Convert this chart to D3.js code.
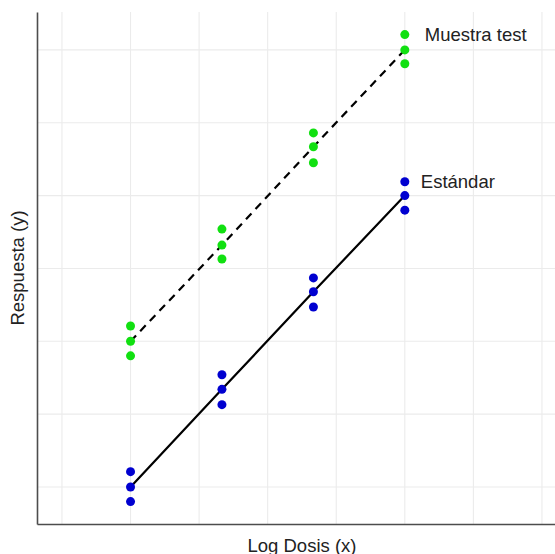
<!DOCTYPE html>
<html>
<head>
<meta charset="utf-8">
<script src="https://cdn.jsdelivr.net/npm/d3@7"></script>
<style>
  html, body { margin: 0; padding: 0; background: #fff; }
  svg { display: block; }
</style>
</head>
<body>
<svg id="chart" width="555" height="554"></svg>
<script>
// Log dose levels (x) and the three replicate responses at each level
const logDosis = [1, 2.333, 3.667, 5];
const estandarReplicas = [
  [1.21, 1.00, 0.80],
  [2.54, 2.34, 2.13],
  [3.87, 3.68, 3.47],
  [5.19, 5.00, 4.80]
];
const muestraReplicas = [
  [3.21, 3.00, 2.80],
  [4.54, 4.32, 4.13],
  [5.86, 5.67, 5.45],
  [7.21, 7.00, 6.81]
];
// Fitted mean response per dose level
const estandarMedias = [1.00, 2.34, 3.68, 5.00];
const muestraMedias = [3.00, 4.32, 5.67, 7.00];

const seriesNames = ["Estándar", "Muestra test"];
const xTicks = [0, 1, 2, 3, 4, 5, 6, 7];
const yTicks = [1, 2, 3, 4, 5, 6, 7];
const xDomain = [-0.364, 7.19];
const yDomain = [0.492, 7.52];

const svg = d3.select("#chart");
const W = 555, H = 554;
const margin = { left: 37, right: 0, top: 12, bottom: 30 };

const x = d3.scaleLinear().domain(xDomain).range([margin.left, W - margin.right]);
const y = d3.scaleLinear().domain(yDomain).range([H - margin.bottom, margin.top]);

const fontFamily = "Liberation Sans, Arial, sans-serif";

// Grid
const grid = svg.append("g");
grid.selectAll("line.vx").data(xTicks).join("line")
  .attr("x1", d => x(d)).attr("x2", d => x(d))
  .attr("y1", y.range()[1]).attr("y2", y.range()[0])
  .attr("stroke", "#ebebeb").attr("stroke-width", 1.1);
grid.selectAll("line.hy").data(yTicks).join("line")
  .attr("y1", d => y(d)).attr("y2", d => y(d))
  .attr("x1", x.range()[0]).attr("x2", x.range()[1])
  .attr("stroke", "#ebebeb").attr("stroke-width", 1.1);

// Axes (lines only, no tick labels)
const xAxis = svg.append("g")
  .attr("transform", `translate(0,${y.range()[0]})`)
  .call(d3.axisBottom(x).tickValues([]).tickSize(0).tickSizeOuter(0));
const yAxis = svg.append("g")
  .attr("transform", `translate(${x.range()[0]},0)`)
  .call(d3.axisLeft(y).tickValues([]).tickSize(0).tickSizeOuter(0));
[xAxis, yAxis].forEach(a => a.select(".domain")
  .attr("stroke", "#4d4d4d").attr("stroke-width", 1.6));

// Mean-response lines
const line = d3.line().x(d => x(d[0])).y(d => y(d[1]));
svg.append("path")
  .datum(d3.zip(logDosis, estandarMedias))
  .attr("d", line)
  .attr("fill", "none").attr("stroke", "#000").attr("stroke-width", 2.2);
svg.append("path")
  .datum(d3.zip(logDosis, muestraMedias))
  .attr("d", line)
  .attr("fill", "none").attr("stroke", "#000").attr("stroke-width", 2.2)
  .attr("stroke-dasharray", "8,6");

// Replicate points
function pointsOf(reps) {
  return reps.flatMap((vals, i) => vals.map(v => [logDosis[i], v]));
}
const colors = { "Estándar": "#0000d0", "Muestra test": "#11e011" };
[[estandarReplicas, seriesNames[0]], [muestraReplicas, seriesNames[1]]].forEach(([reps, name]) => {
  svg.append("g").selectAll("circle").data(pointsOf(reps)).join("circle")
    .attr("cx", d => x(d[0])).attr("cy", d => y(d[1]))
    .attr("r", 4.5).attr("fill", colors[name]);
});

// Series labels next to the highest dose
const lastIdx = logDosis.length - 1;
const labelGap = { "Estándar": 16, "Muestra test": 20 };
[[estandarReplicas, seriesNames[0]], [muestraReplicas, seriesNames[1]]].forEach(([reps, name]) => {
  svg.append("text")
    .attr("x", x(logDosis[lastIdx]) + labelGap[name])
    .attr("y", y(d3.max(reps[lastIdx])))
    .attr("dy", "0.35em")
    .attr("font-family", fontFamily).attr("font-size", 18.5)
    .attr("fill", "#222")
    .text(name);
});

// Axis titles
svg.append("text")
  .attr("x", 302).attr("y", 551.5)
  .attr("text-anchor", "middle")
  .attr("font-family", fontFamily).attr("font-size", 18.5).attr("fill", "#222")
  .text("Log Dosis (x)");
svg.append("text")
  .attr("transform", `translate(23.5,${(y.range()[0] + y.range()[1]) / 2}) rotate(-90)`)
  .attr("text-anchor", "middle")
  .attr("font-family", fontFamily).attr("font-size", 18.5).attr("fill", "#222")
  .text("Respuesta (y)");
</script>
</body>
</html>
